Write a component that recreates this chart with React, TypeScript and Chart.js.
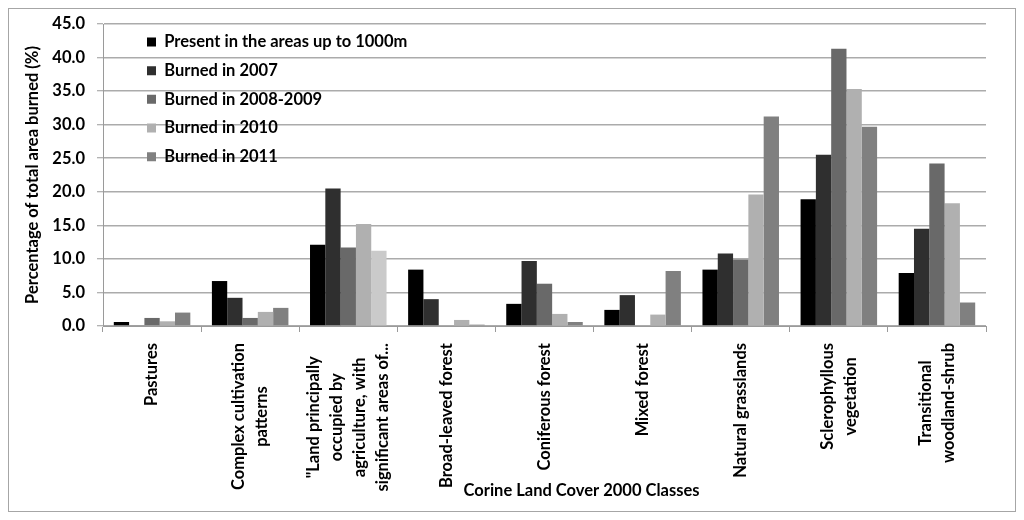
import React, { useEffect, useRef } from "react";
import { Chart, registerables } from "chart.js";

Chart.register(...registerables);

const categories: string[][] = [
  ["Pastures"],
  ["Complex cultivation", "patterns"],
  ['"Land principally', "occupied by", "agriculture, with", "significant areas of..."],
  ["Broad-leaved forest"],
  ["Coniferous forest"],
  ["Mixed forest"],
  ["Natural grasslands"],
  ["Sclerophyllous", "vegetation"],
  ["Transitional", "woodland-shrub"],
];

const seriesNames = [
  "Present in the areas up to 1000m",
  "Burned in 2007",
  "Burned in 2008-2009",
  "Burned in 2010",
  "Burned in 2011",
];

const present = [0.6, 6.7, 12.1, 8.4, 3.3, 2.4, 8.4, 18.9, 7.9];
const burned2007 = [0.1, 4.2, 20.5, 4.0, 9.7, 4.6, 10.8, 25.5, 14.5];
const burned2008 = [1.2, 1.2, 11.7, 0, 6.3, 0, 9.9, 41.3, 24.2];
const burned2010 = [0.7, 2.1, 15.2, 0.9, 1.8, 1.7, 19.6, 35.3, 18.3];
const burned2011 = [2.0, 2.7, 11.2, 0.2, 0.6, 8.2, 31.2, 29.7, 3.5];

const yTitle = "Percentage of total area burned (%)";
const xTitle = "Corine Land Cover 2000 Classes";

const FONT = "Lato";
const FS = 16.5;

export default function App() {
  const ref = useRef<HTMLCanvasElement | null>(null);

  useEffect(() => {
    if (!ref.current) return;

    const xLabelsPlugin = {
      id: "xLabels",
      afterDraw(chart: any) {
        const ctx = chart.ctx;
        const xs = chart.scales.x;
        const lh = 23;
        ctx.save();
        ctx.fillStyle = "#000";
        ctx.font = `bold ${FS}px ${FONT}`;
        const top = xs.top + 17;
        categories.forEach((lines, i) => {
          const cx = xs.getPixelForTick(i);
          const L = Math.max(...lines.map((t) => ctx.measureText(t).width));
          lines.forEach((t, j) => {
            const lx = cx + (j - (lines.length - 1) / 2) * lh;
            ctx.save();
            ctx.translate(lx, top + L / 2);
            ctx.rotate(-Math.PI / 2);
            ctx.textAlign = "center";
            ctx.textBaseline = "middle";
            ctx.fillText(t, 0, 0);
            ctx.restore();
          });
        });
        const ca = chart.chartArea;
        ctx.textAlign = "center";
        ctx.textBaseline = "middle";
        ctx.fillText(xTitle, (ca.left + ca.right) / 2 + 37, chart.height - 20);
        ctx.restore();
      },
    };

    const legendShift = {
      id: "legendShift",
      afterLayout(chart: any) {
        const lg = chart.legend;
        const ca = chart.chartArea;
        if (!lg) return;
        lg.left = ca.left + 31.8;
        lg.top = ca.top - 2.5;
        lg.right = lg.left + 420;
        lg.width = 420;
        lg.bottom = ca.bottom;
        lg.height = lg.bottom - lg.top;
      },
    };

    const chart = new Chart(ref.current, {
      type: "bar",
      data: {
        labels: categories,
        datasets: [
          { label: seriesNames[0], data: present, backgroundColor: "#000000" },
          { label: seriesNames[1], data: burned2007, backgroundColor: "#2f2f2f" },
          { label: seriesNames[2], data: burned2008, backgroundColor: "#696969" },
          { label: seriesNames[3], data: burned2010, backgroundColor: "#b0b0b0" },
          {
            label: seriesNames[4],
            data: burned2011,
            backgroundColor: (c: any) => (c.dataIndex === 2 ? "#cacaca" : "#808080"),
          },
        ],
      },
      options: {
        animation: false,
        responsive: true,
        maintainAspectRatio: false,
        layout: { padding: { left: 0, right: 29, top: 15, bottom: 0 } },
        datasets: { bar: { categoryPercentage: 0.78, barPercentage: 1.0 } } as any,
        plugins: {
          tooltip: { enabled: false },
          legend: {
            position: "chartArea" as any,
            align: "start",
            labels: {
              boxWidth: 9,
              boxHeight: 9,
              padding: 12.2,
              color: "#000",
              font: { family: FONT, size: FS, weight: "bold" },
            },
          },
        },
        scales: {
          x: {
            afterFit: (s: any) => {
              s.height = 185;
              s.paddingLeft = 0;
              s.paddingRight = 0;
            },
            ticks: { display: false },
            grid: {
              display: true,
              drawOnChartArea: false,
              drawTicks: true,
              tickLength: 6,
              color: "#9a9a9a",
              offset: true,
            },
            border: { display: true, color: "#9a9a9a", width: 1 },
          },
          y: {
            min: 0,
            max: 45,
            afterFit: (s: any) => {
              s.width = 94;
              s.paddingTop = 0;
              s.paddingBottom = 0;
            },
            ticks: {
              stepSize: 5,
              padding: 12,
              color: "#000",
              font: { family: FONT, size: FS, weight: "bold" },
              callback: (v: any) => Number(v).toFixed(1),
            },
            grid: {
              color: "#ababab",
              lineWidth: 1.5,
              tickLength: 6,
              tickColor: "#9a9a9a",
              tickWidth: 1,
            },
            border: { display: true, color: "#9a9a9a", width: 1 },
            title: {
              display: true,
              text: yTitle,
              color: "#000",
              padding: { top: 14, bottom: 0 },
              font: { family: FONT, size: FS, weight: "bold" },
            },
          },
        },
      },
      plugins: [xLabelsPlugin, legendShift],
    });

    return () => chart.destroy();
  }, []);

  return (
    <div
      style={{
        width: 1006,
        height: 502,
        border: "1px solid #a6a6a6",
        position: "relative",
        background: "#fff",
      }}
    >
      <canvas ref={ref} />
    </div>
  );
}
